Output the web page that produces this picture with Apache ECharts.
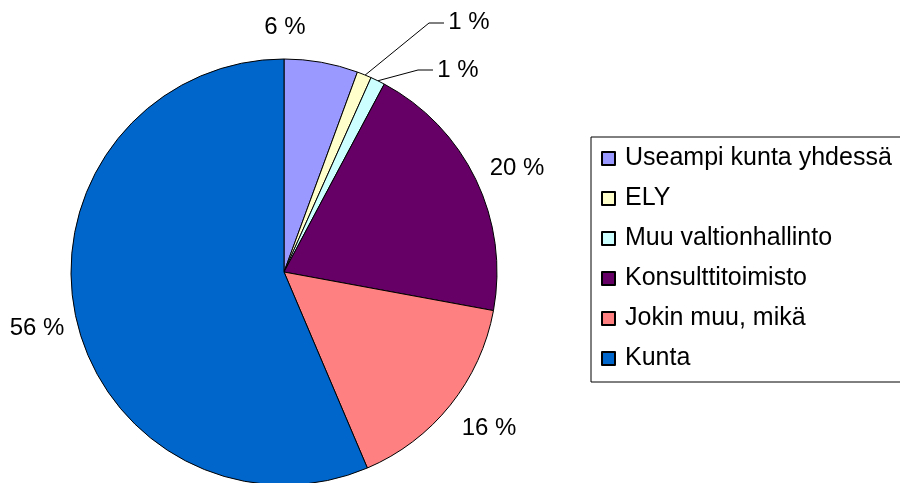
<!DOCTYPE html>
<html>
<head>
<meta charset="utf-8">
<script src="https://cdn.jsdelivr.net/npm/echarts@6/dist/echarts.min.js"></script>
<style>
  html, body { margin: 0; padding: 0; background: #fff; }
  #chart { width: 900px; height: 483px; }
</style>
</head>
<body>
<div id="chart"></div>
<script>
// sektorit myötäpäivään ylhäältä alkaen
const categories = ['Useampi kunta yhdessä', 'ELY', 'Muu valtionhallinto', 'Konsulttitoimisto', 'Jokin muu, mikä', 'Kunta']
const values = [5.6, 1.1, 1.1, 20.1, 15.7, 56.4]
const colors = ['#9999FF', '#FFFFCC', '#CCFFFF', '#660066', '#FF8080', '#0066CC']

const font = 'Liberation Sans, Arial, sans-serif'

// label centres and leader lines
const labelPos = [[285, 27], [469, 22], [458, 70], [517, 168], [489, 428], [37, 328]]
const leaderLines = {
  1: [[364, 76], [429, 23], [444, 23]],
  2: [[377, 81], [418, 70], [433, 70]]
}

let seriesData = []
for (let i = 0; i < categories.length; i++) {
  seriesData.push({
    name: categories[i],
    value: values[i],
    itemStyle: { color: colors[i] },
    labelLine: { show: !!leaderLines[i] }
  })
}

let myChart = echarts.init(document.getElementById('chart'))
myChart.setOption({
  animation: false,
  legend: {
    orient: 'vertical',
    left: 591,
    top: 137,
    padding: [9, 14, 11, 10],
    borderColor: '#000',
    borderWidth: 1,
    itemWidth: 13,
    itemHeight: 13,
    itemGap: 15,
    icon: 'rect',
    textStyle: { fontFamily: font, fontSize: 25, lineHeight: 25, color: '#000', padding: [0, 0, 0, 5] },
    data: categories
  },
  series: [{
    name: 'Organisaatio',
    type: 'pie',
    center: [284, 272],
    radius: 213,
    startAngle: 90,
    clockwise: true,
    percentPrecision: 0,
    avoidLabelOverlap: false,
    itemStyle: { borderColor: '#000', borderWidth: 1 },
    label: {
      show: true,
      position: 'outside',
      formatter: '{d} %',
      fontFamily: font,
      fontSize: 24,
      color: '#000'
    },
    labelLine: {
      show: true,
      length: 10,
      length2: 10,
      smooth: false,
      lineStyle: { color: '#000', width: 1 }
    },
    labelLayout: function (params) {
      let i = params.dataIndex
      let out = {
        x: labelPos[i][0],
        y: labelPos[i][1],
        align: 'center',
        verticalAlign: 'middle'
      }
      if (leaderLines[i]) out.labelLinePoints = leaderLines[i]
      return out
    },
    emphasis: { disabled: true },
    data: seriesData
  }]
})
</script>
</body>
</html>
